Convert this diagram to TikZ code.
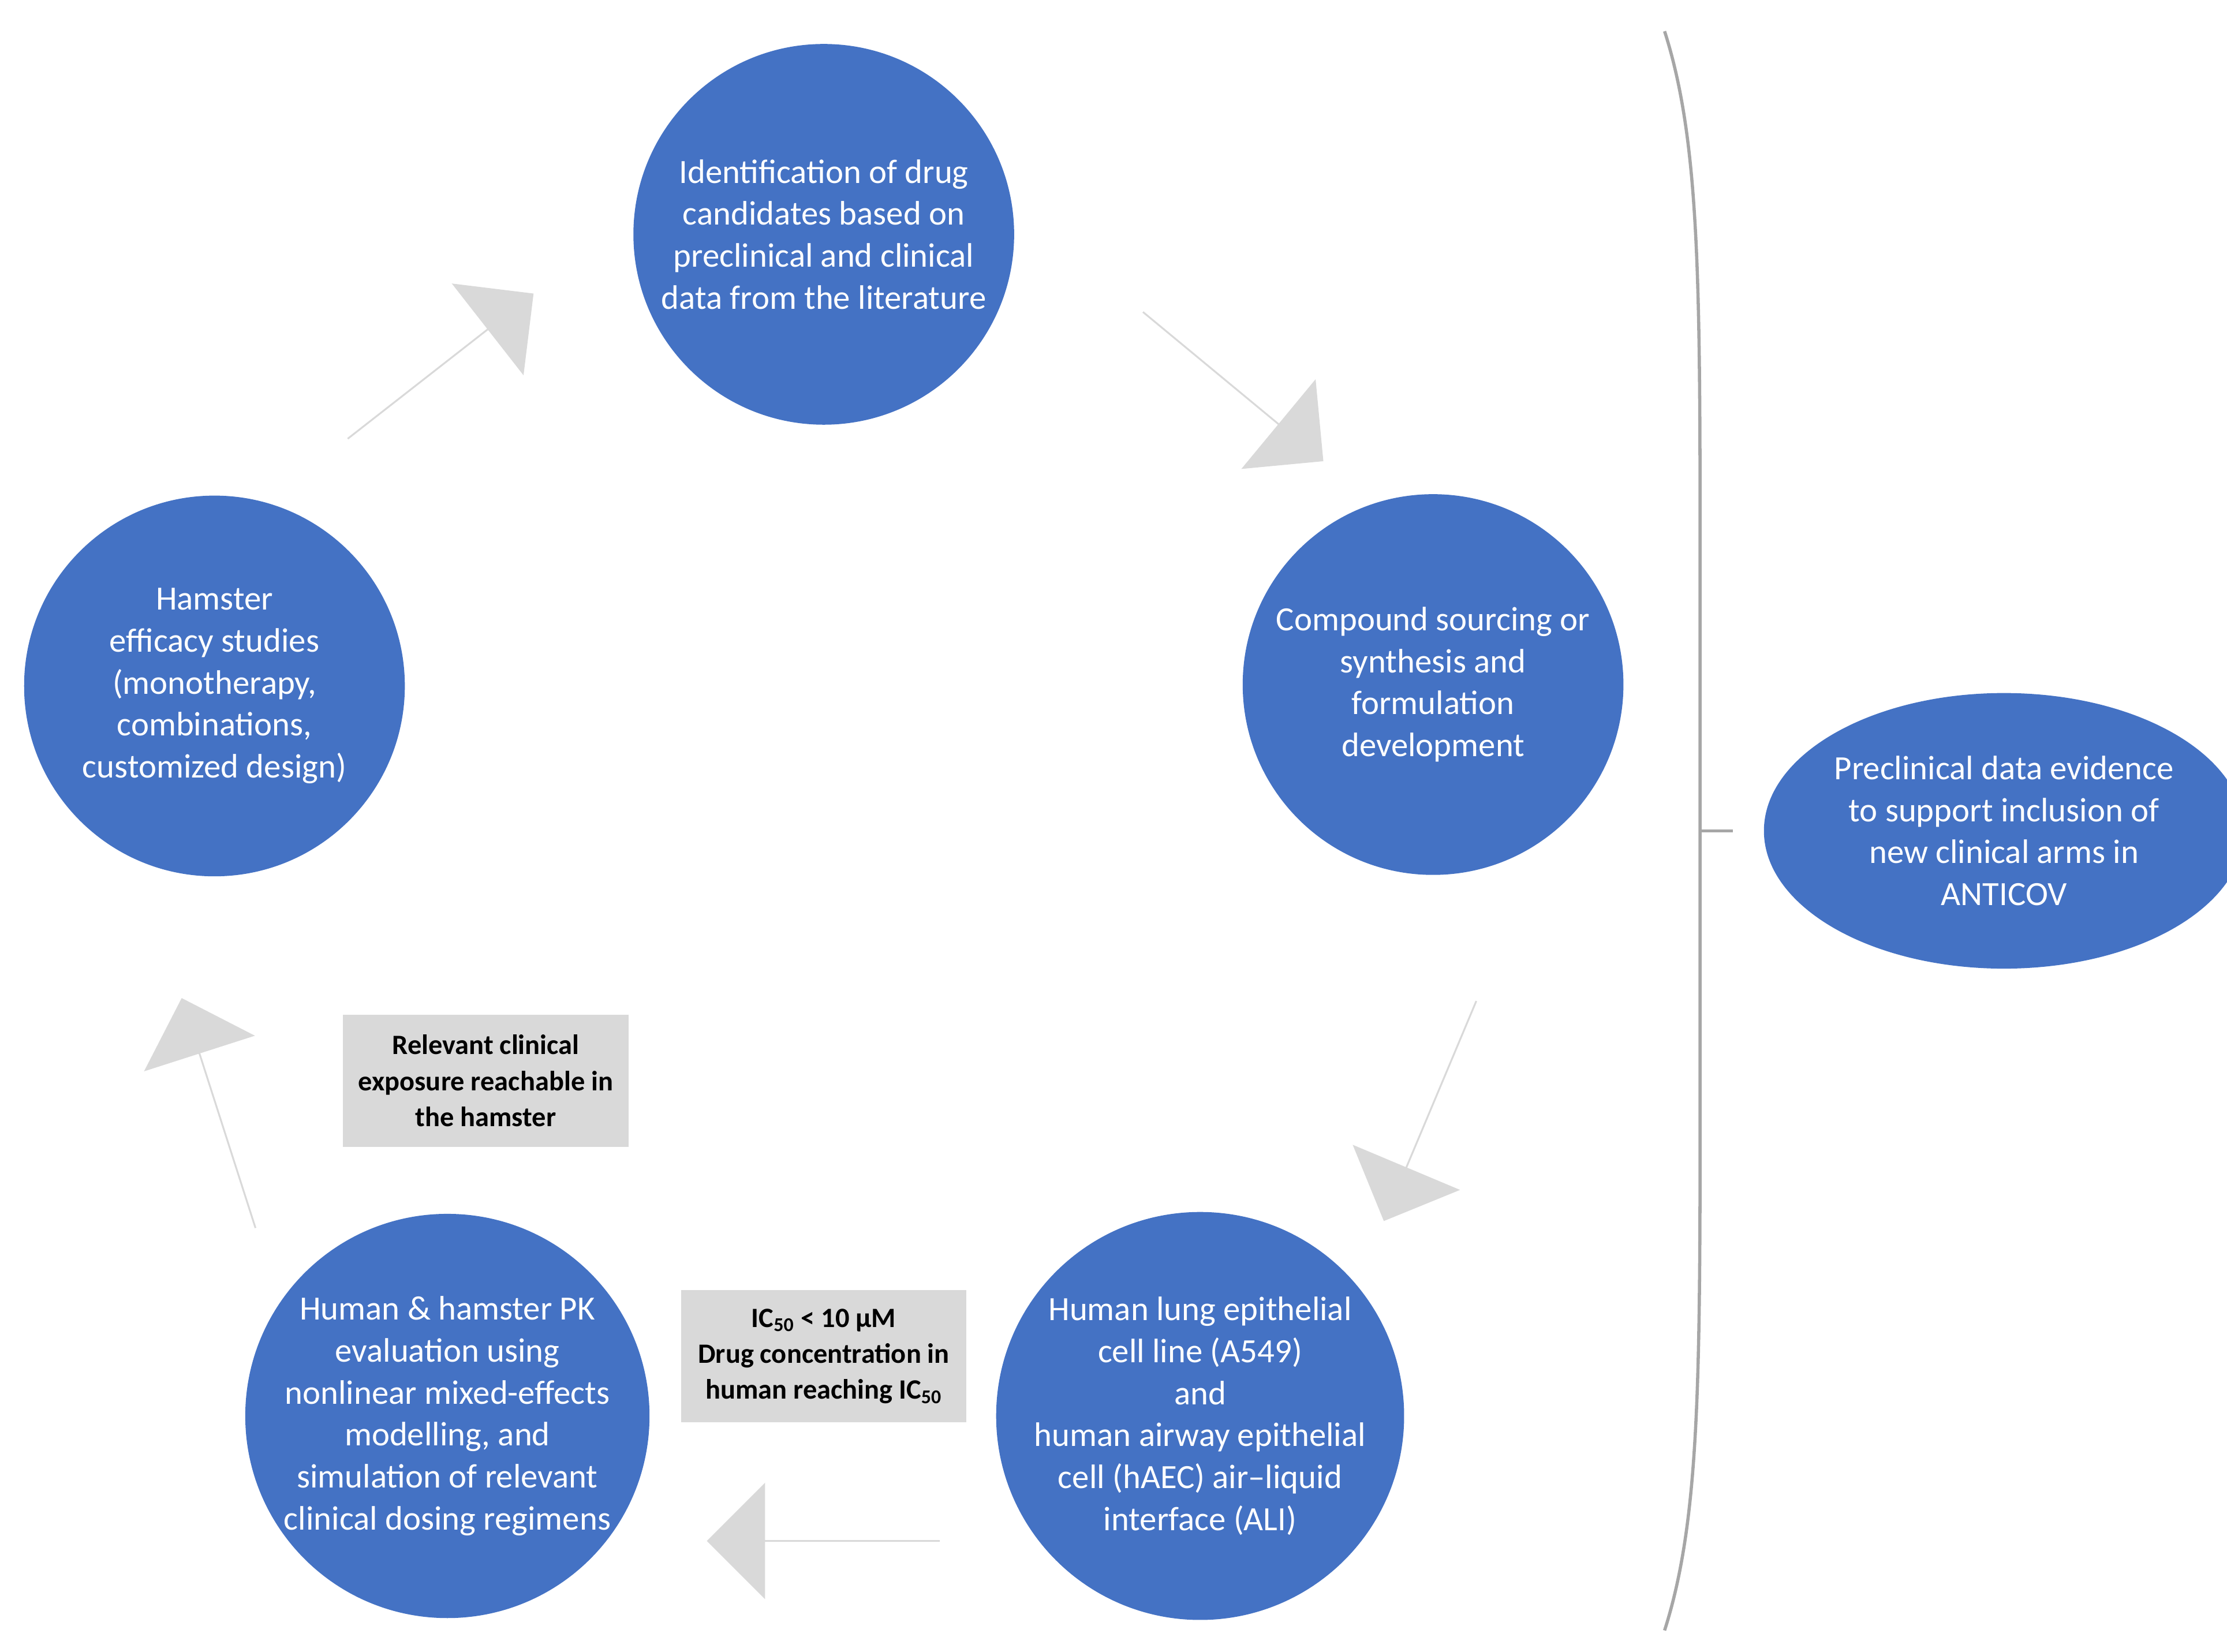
\documentclass[tikz,border=0pt]{standalone}
\usepackage{fontspec}
\setmainfont{Carlito}
\usetikzlibrary{shapes.arrows,shapes.geometric}
\definecolor{cblue}{HTML}{4472C4}
\definecolor{agray}{HTML}{D9D9D9}
\definecolor{bgray}{HTML}{A6A6A6}
\begin{document}
\begin{tikzpicture}[x=0.025cm,y=-0.025cm,
  circ/.style={circle,fill=cblue,draw=none,minimum size=6.7cm,align=center,text=white,font=\fontsize{17}{21}\selectfont,inner sep=0pt},
  blk/.style={single arrow,fill=agray,draw=none,minimum width=2.05cm,single arrow head extend=0.45cm,single arrow head indent=0pt,inner sep=0pt,anchor=center},
  box/.style={fill=agray,draw=none,minimum width=5.02cm,minimum height=2.33cm,align=center,font=\bfseries\fontsize{14}{18}\selectfont}]
\useasboundingbox (0,0) rectangle (1568,1163);
\node[circ] (top) at (580,165) {Identification of drug\\candidates based on\\preclinical and clinical\\data from the literature};
\node[circ] (right) at (1009,482) {Compound sourcing or\\synthesis and\\formulation\\development};
\node[circ] (br) at (845,997) {Human lung epithelial\\cell line (A549)\\and\\human airway epithelial\\cell (hAEC) air--liquid\\interface (ALI)};
\node[circ] (bl) at (315,997) {Human \& hamster PK\\evaluation using\\nonlinear mixed-effects\\modelling, and\\simulation of relevant\\clinical dosing regimens};
\node[circ] (left) at (151,483) {Hamster\\efficacy studies\\(monotherapy,\\combinations,\\customized design)};
\node[ellipse,fill=cblue,minimum width=7.15cm,minimum height=4.85cm,align=center,text=white,font=\fontsize{17}{21}\selectfont,inner sep=0pt] (ev) at (1411,585) {Preclinical data evidence\\to support inclusion of\\new clinical arms in\\ANTICOV};
\node[blk,minimum height=4.15cm,rotate=38] (a1) at (310,258) {};
\node[blk,minimum height=4.12cm,rotate=-39.6] (a2) at (868,272) {};
\node[blk,minimum height=4.2cm,rotate=-112.8] (a3) at (1007,782) {};
\node[blk,minimum height=4.1cm,rotate=180] (a4) at (580,1085) {};
\node[blk,minimum height=4.25cm,rotate=107.8] (a5) at (154,784) {};
\node[box] (b1) at (342,761) {Relevant clinical\\exposure reachable in\\the hamster};
\node[box] (b2) at (580,955) {IC\textsubscript{50} < 10 µM\\Drug concentration in\\human reaching IC\textsubscript{50}};
\coordinate (s) at (1172,22);
\coordinate (e) at (1172,1148);
\coordinate (m) at (1197,585);
\coordinate (t) at (1220,585);
\draw[bgray,line width=1.6pt] (s) .. controls (1197,100) and (1197,200) .. (1197,400) -- (1197,770) .. controls (1197,970) and (1197,1070) .. (e);
\draw[bgray,line width=1.6pt] (m) -- (t);
\end{tikzpicture}
\end{document}
